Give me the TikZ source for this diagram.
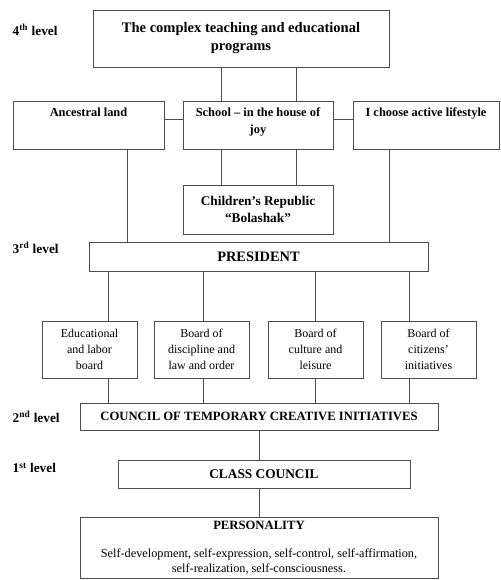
\documentclass[tikz,border=0pt]{standalone}
\usepackage{fontspec}
\setmainfont{Liberation Serif}
\tikzset{
  orgbox/.style 2 args={draw=black!70, line width=.6pt, minimum width=#1*0.75pt,
    minimum height=#2*0.75pt, inner sep=2pt, align=center,
    font=\fontsize{10}{13}\selectfont\bfseries},
  rowbox/.style={orgbox={#1}{10}, anchor=north, text height=9.25pt, text depth=22.75pt,
    font=\fontsize{9.3}{12.75}\selectfont\bfseries},
  board/.style={orgbox={95}{57}, font=\fontsize{9}{12}\selectfont},
  conn/.style={draw=black!70, line width=.6pt},
  lvl/.style={anchor=west, font=\fontsize{10}{11}\selectfont\bfseries}
}
\begin{document}
\begin{tikzpicture}[x=0.75pt, y=-0.75pt]
  \useasboundingbox (0,0) rectangle (500,580);

  % level labels
  \node[lvl] (l4) at (8,30) {4\textsuperscript{th} level};
  \node[lvl] (l3) at (8,248) {3\textsuperscript{rd} level};
  \node[lvl] (l2) at (8,417) {2\textsuperscript{nd} level};
  \node[lvl] (l1) at (8,468) {1\textsuperscript{st} level};

  % 4th level
  \node[orgbox={296}{57}, font=\fontsize{10.9}{13.5}\selectfont\bfseries] (prog)
    at (241,38.5) {The complex teaching and educational\\programs};
  \node[rowbox=151] (land) at (88.5,101) {Ancestral land};
  \node[rowbox=150, text height=22pt, text depth=10pt] (school) at (258,101)
    {School -- in the house of\\joy};
  \node[rowbox=146] (active) at (426,101) {I choose active lifestyle};
  \node[orgbox={150}{49}] (rep) at (258,209.5) {Children's Republic\\``Bolashak''};

  % 3rd level
  \node[orgbox={339}{29}, font=\fontsize{10.8}{13}\selectfont\bfseries] (pres)
    at (258.5,256.5) {PRESIDENT};
  \node[board] (b1) at (89.5,349.5) {Educational\\and labor\\board};
  \node[board] (b2) at (201.5,349.5) {Board of\\discipline and\\law and order};
  \node[board] (b3) at (315.5,349.5) {Board of\\culture and\\leisure};
  \node[board] (b4) at (428.5,349.5) {Board of\\citizens'\\initiatives};

  % 2nd and 1st level
  \node[orgbox={358}{27}, font=\fontsize{9.5}{12}\selectfont\bfseries] (council)
    at (259,416.5) {COUNCIL OF TEMPORARY CREATIVE INITIATIVES};
  \node[orgbox={292}{28}] (cls) at (264,474) {CLASS COUNCIL};
  \node[orgbox={358}{61}, font=\fontsize{9.2}{11.25}\selectfont] (pers) at (259,547.5)
    {{\fontsize{9.5}{12}\selectfont\bfseries PERSONALITY}\\[9.5pt]
     Self-development, self-expression, self-control, self-affirmation,\\
     self-realization, self-consciousness.};

  % x positions of the connectors
  \coordinate (xa) at (221,0);
  \coordinate (xb) at (296,0);
  \coordinate (xc) at (127,0);
  \coordinate (xd) at (389,0);
  \coordinate (hy) at (0,119);
  \coordinate (xm) at (259,0);

  \draw[conn] (prog.south -| xa) -- (school.north -| xa)
              (prog.south -| xb) -- (school.north -| xb);
  \draw[conn] (land.east |- hy) -- (school.west |- hy)
              (school.east |- hy) -- (active.west |- hy);
  \draw[conn] (school.south -| xa) -- (rep.north -| xa)
              (school.south -| xb) -- (rep.north -| xb);
  \draw[conn] (land.south -| xc) -- (pres.north -| xc)
              (active.south -| xd) -- (pres.north -| xd);

  \foreach \b/\x in {b1/108, b2/203, b3/315, b4/409}{
    \draw[conn] (pres.south -| \x,0) -- (\b.north -| \x,0);
    \draw[conn] (\b.south -| \x,0) -- (council.north -| \x,0);
  }
  \draw[conn] (council.south -| xm) -- (cls.north -| xm);
  \draw[conn] (cls.south -| xm) -- (pers.north -| xm);
\end{tikzpicture}
\end{document}
